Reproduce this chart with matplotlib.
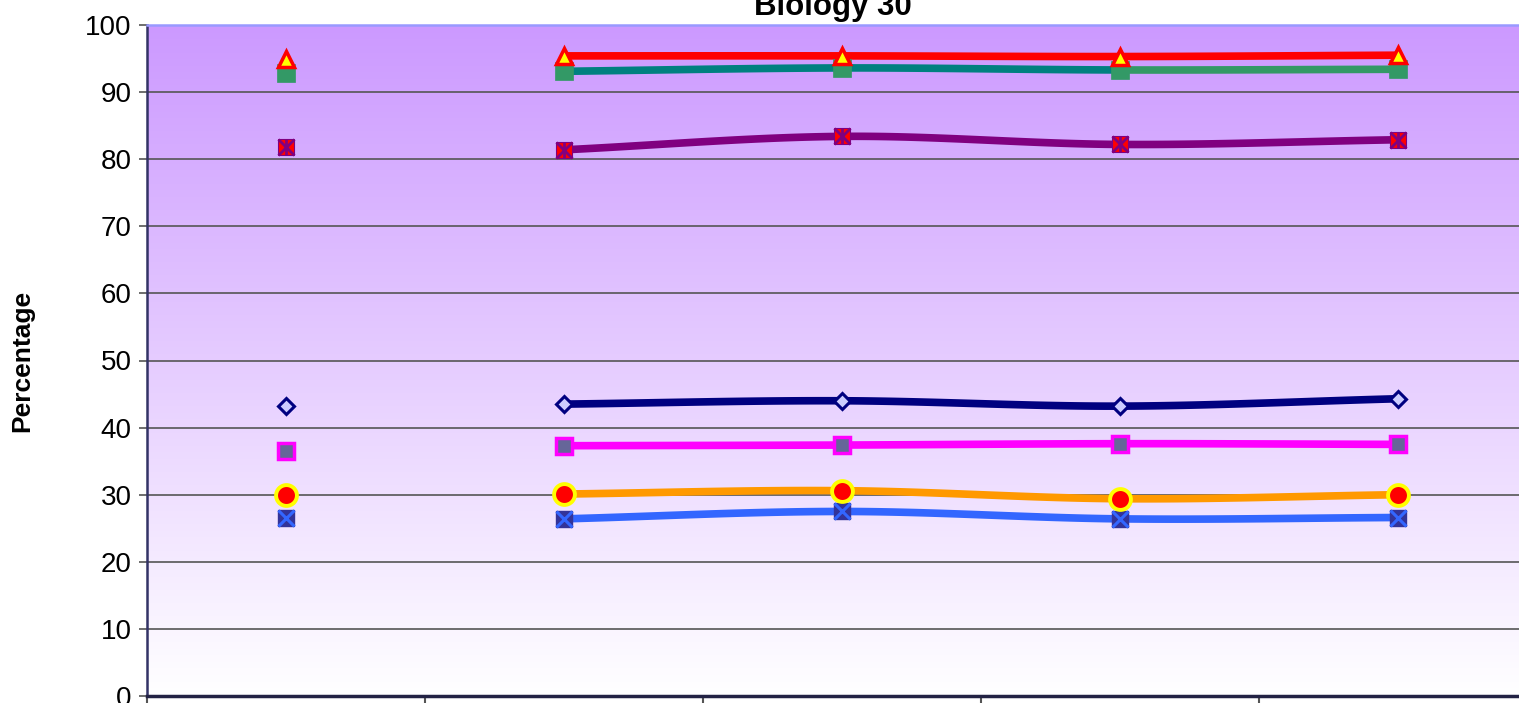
import numpy as np
import matplotlib
matplotlib.use("Agg")
import matplotlib.pyplot as plt
from matplotlib.colors import LinearSegmentedColormap

plt.rcParams['font.family'] = ['Liberation Sans', 'DejaVu Sans']

# ---- data ----
x_pos = [0, 1, 2, 3, 4]
y_ticks = [0, 10, 20, 30, 40, 50, 60, 70, 80, 90, 100]
title = "Biology 30"
ylabel = "Percentage"

red_tri = [94.9, 95.4, 95.4, 95.3, 95.5]
green_sq = [92.8, 93.1, 93.6, 93.3, 93.4]
purple_x = [81.8, 81.4, 83.4, 82.2, 82.9]
navy_dia = [43.2, 43.5, 44.0, 43.2, 44.3]
magenta_sq = [36.5, 37.3, 37.4, 37.6, 37.5]
orange_circ = [29.9, 30.1, 30.6, 29.4, 30.0]
blue_x = [26.6, 26.4, 27.5, 26.4, 26.6]


def smooth_segments(xs, ys, n=40):
    """Catmull-Rom segments between consecutive points (for Excel-like smoothed lines)."""
    xs = np.asarray(xs, float)
    ys = np.asarray(ys, float)
    P = np.column_stack([xs, ys])
    Pext = np.vstack([2 * P[0] - P[1], P, 2 * P[-1] - P[-2]])
    segs = []
    t = np.linspace(0, 1, n)[:, None]
    for i in range(1, len(Pext) - 2):
        p0, p1, p2, p3 = Pext[i - 1], Pext[i], Pext[i + 1], Pext[i + 2]
        c = 0.5 * ((2 * p1) + (-p0 + p2) * t + (2 * p0 - 5 * p1 + 4 * p2 - p3) * t ** 2
                   + (-p0 + 3 * p1 - 3 * p2 + p3) * t ** 3)
        segs.append(c)
    return segs


W, H = 1519, 703
fig = plt.figure(figsize=(W / 100, H / 100), dpi=100)
ax = fig.add_axes([147 / W, 7 / H, (1537 - 147) / W, (696 - 25) / H])
ax.set_xlim(-0.5, 4.5)
ax.set_ylim(0, 100)

# gradient background
cmap = LinearSegmentedColormap.from_list('bg', ['#ffffff', '#cc99ff'])
ax.imshow(np.linspace(0, 1, 256).reshape(-1, 1), extent=(-0.5, 4.5, 0, 100),
          aspect='auto', cmap=cmap, origin='lower', zorder=0)

for yv in y_ticks[1:-1]:
    ax.axhline(yv, color='#555555', lw=1.2, zorder=1)

LW = 5.5


def draw_line(vals, colors):
    segs = smooth_segments(x_pos[1:], vals[1:])
    for seg, col in zip(segs, colors):
        ax.plot(seg[:, 0], seg[:, 1], color=col, lw=LW, solid_capstyle='butt', zorder=2)


# lines (from 2nd category onward)
draw_line(blue_x, ['#3366ff'] * 3)
draw_line(orange_circ, ['#ff9900'] * 3)
draw_line(magenta_sq, ['#ff00ff'] * 3)
draw_line(navy_dia, ['#000080'] * 3)
draw_line(purple_x, ['#800080'] * 3)
draw_line(green_sq, ['#008080', '#008080', '#339966'])
draw_line(red_tri, ['#ff0000'] * 3)

# markers
ax.plot(x_pos, blue_x, ls='none', marker='s', ms=11.5, mfc='#333399', mec='#333399', zorder=5)
ax.plot(x_pos, blue_x, ls='none', marker='x', ms=11.5, mec='#3366ff', mew=2.2, zorder=6)
ax.plot(x_pos, orange_circ, ls='none', marker='o', ms=15, mfc='#ff0000', mec='#ffff00', mew=2.8, zorder=5)
ax.plot(x_pos, magenta_sq, ls='none', marker='s', ms=11, mfc='#666699', mec='#ff00ff', mew=2.5, zorder=5)
ax.plot(x_pos, navy_dia, ls='none', marker='D', ms=8.5, mfc='#ccccff', mec='#000080', mew=2.2, zorder=5)
ax.plot(x_pos, purple_x, ls='none', marker='s', ms=12, mfc='#ff0000', mec='#800080', mew=0.8, zorder=5)
ax.plot(x_pos, purple_x, ls='none', marker='x', ms=12, mec='#800080', mew=2, zorder=6)
ax.plot(x_pos, purple_x, ls='none', marker='|', ms=12, mec='#800080', mew=2, zorder=6)
ax.plot(x_pos, green_sq, ls='none', marker='s', ms=13, mfc='#339966', mec='#339966', mew=0.5, zorder=5)
ax.plot(x_pos, red_tri, ls='none', marker='^', ms=12, mfc='#ffff00', mec='#ff0000', mew=2.5, zorder=6)

# axes styling
ax.set_yticks(y_ticks)
ax.set_yticklabels([str(v) for v in y_ticks], fontsize=20)
ax.tick_params(axis='y', direction='out', length=6, width=1.2, color='#555555', pad=5)
ax.set_xticks([-0.5, 0.5, 1.5, 2.5, 3.5, 4.5])
ax.set_xticklabels([])
ax.tick_params(axis='x', direction='out', length=8, width=1.5, color='#555555')
ax.spines['left'].set_color('#333366')
ax.spines['left'].set_linewidth(1.8)
ax.spines['bottom'].set_color('#222244')
ax.spines['bottom'].set_linewidth(2.5)
ax.spines['top'].set_color('#9999ff')
ax.spines['top'].set_linewidth(1.8)
ax.spines['right'].set_visible(False)

fig.text(22 / W, (H - 361) / H, ylabel, rotation=90, fontsize=19, fontweight='bold',
         ha='center', va='center')
fig.text(833 / W, 1 - 15 / H, title, fontsize=22.5, fontweight='bold', ha='center', va='baseline')

fig.savefig('out.png', dpi=100)
